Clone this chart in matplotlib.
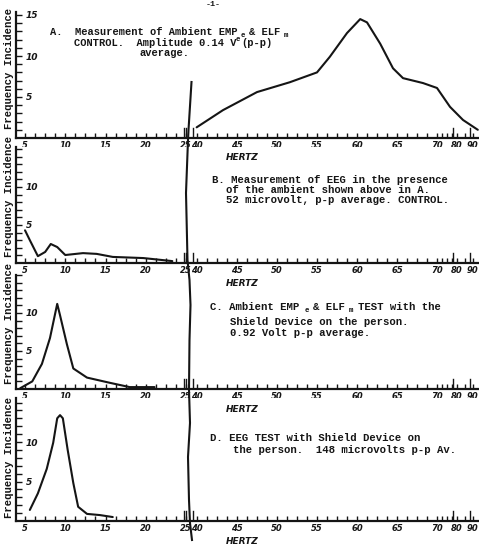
import matplotlib
matplotlib.use('Agg')
import matplotlib.pyplot as plt
from matplotlib.lines import Line2D
import numpy as np

# ---- data (Hz, frequency incidence) ----
a_hz = [39.5, 43.25, 47.5, 51.6, 55.0, 56.6, 58.75, 60.4, 61.25, 62.9, 64.5, 65.75, 68.25, 70.0, 76.5, 83.75, 93.0]
a_val = [1.3, 3.4, 5.6, 6.8, 8.0, 9.9, 12.8, 14.5, 14.1, 11.5, 8.5, 7.3, 6.7, 6.1, 3.8, 2.2, 1.0]

b_hz = [5.0, 5.6, 6.6, 7.5, 8.2, 9.0, 10.0, 12.2, 13.9, 15.9, 19.7, 23.3]
b_val = [4.3, 3.0, 0.9, 1.45, 2.5, 2.1, 1.05, 1.3, 1.2, 0.8, 0.65, 0.25]

c_hz = [4.4, 5.9, 7.1, 8.1, 9.0, 9.35, 10.2, 11.0, 12.7, 15.6, 18.0, 21.1]
c_val = [0.1, 1.0, 3.3, 6.7, 11.2, 9.7, 5.9, 2.7, 1.5, 0.8, 0.25, 0.25]

d_hz = [5.6, 6.6, 7.7, 8.5, 9.0, 9.35, 9.7, 10.3, 11.0, 11.6, 12.7, 14.3, 15.9]
d_val = [1.4, 3.5, 6.6, 9.9, 13.0, 13.4, 13.0, 9.0, 4.8, 1.8, 0.9, 0.75, 0.5]

hz_ticks = [5, 10, 15, 20, 25, 40, 45, 50, 55, 60, 65, 70, 80, 90]
hz_tick_labels = ['5', '10', '15', '20', '25', '40', '45', '50', '55', '60', '65', '70', '80', '90']

# typed captions: (x px, y px, font size, text); "_x" = lowered letter, "^x" = raised letter
captions = [
    (50, 32, 7.45, 'A.  Measurement of Ambient EMP_e & ELF_m'),
    (74, 43, 7.45, 'CONTROL.  Amplitude 0.14 V^e(p-p)'),
    (139, 53, 7.45, 'average.'),
    (212, 180, 7.7, 'B. Measurement of EEG in the presence'),
    (226, 190, 7.7, 'of the ambient shown above in A.'),
    (226, 200, 7.7, '52 microvolt, p-p average. CONTROL.'),
    (210, 307, 7.7, 'C. Ambient EMP_e & ELF_m TEST with the'),
    (230, 322, 7.7, 'Shield Device on the person.'),
    (230, 333, 7.7, '0.92 Volt p-p average.'),
    (210, 438, 7.7, 'D. EEG TEST with Shield Device on'),
    (233, 450, 7.7, 'the person.  148 microvolts p-p Av.'),
]

# ---- hand-drawn, broken frequency axis (Hz -> pixel) ----
HZ_BP = np.array([0, 25, 40, 70, 80, 90, 100])
PX_BP = np.array([-15.25, 186, 197, 437, 457, 473, 489])


def fwd(h):
    return np.interp(h, HZ_BP, PX_BP)


def inv(p):
    return np.interp(p, PX_BP, HZ_BP)


W, H = 479, 547
fig = plt.figure(figsize=(W / 100, H / 100), dpi=100)
fig.patch.set_facecolor('white')

ink = '#151515'
mono = 'Liberation Mono'

# (top px, baseline px, px per unit, series, y labels, ylabel centre px)
panels = [
    (12, 138, 8.2, a_hz, a_val, [5, 10, 15], 68),
    (147, 263, 7.6, b_hz, b_val, [5, 10], 196),
    (275, 389, 7.8, c_hz, c_val, [5, 10], 323),
    (398, 521, 7.9, d_hz, d_val, [5, 10], 457),
]

minor_x = list(np.arange(5, 25.01, 1.25)) + list(np.arange(40, 70.01, 1.25)) + [72.5, 75, 77.5, 85, 90]
tall_x = [24.7, 25.1, 35, 78, 88]

for top, base, ppu, xs, ys, ylab, yc in panels:
    ax = fig.add_axes([16 / W, 1 - base / H, 463 / W, (base - top) / H])
    ax.set_xscale('function', functions=(fwd, inv))
    ax.set_xlim(3.88, 93.75)
    ax.set_ylim(0, (base - top) / ppu)
    ax.plot(xs, ys, color=ink, lw=1.5, solid_capstyle='round', solid_joinstyle='round')

    for s in ['top', 'right']:
        ax.spines[s].set_visible(False)
    for s in ['left', 'bottom']:
        ax.spines[s].set_linewidth(1.6)
        ax.spines[s].set_color(ink)

    ax.set_xticks(hz_ticks)
    ax.set_xticklabels(hz_tick_labels, fontsize=6, fontstyle='italic', fontweight='bold', color=ink)
    ax.set_xticks(minor_x, minor=True)
    ax.xaxis.set_minor_formatter(plt.NullFormatter())
    ax.tick_params(axis='x', which='both', direction='in', length=3.5, width=1, color=ink, pad=2)

    ax.set_yticks(ylab)
    ax.set_yticklabels([str(v) for v in ylab], fontsize=6.5, fontstyle='italic', fontweight='bold', color=ink)
    ax.set_yticks(np.arange(1, 16), minor=True)
    ax.tick_params(axis='y', which='both', direction='in', length=4, width=1, color=ink, pad=-7)
    for lab in ax.get_yticklabels():
        lab.set_horizontalalignment('left')

    for t in tall_x:
        ax.axvline(t, ymin=0, ymax=10 / (base - top), color=ink, lw=1)

    fig.text(9 / W, 1 - yc / H, 'Frequency Incidence', rotation=90, ha='center', va='center',
             fontsize=7.7, family=mono, fontweight='bold', color=ink)
    fig.text(242 / W, 1 - (base + 20) / H, 'HERTZ', ha='center', va='center',
             fontsize=6.5, fontstyle='italic', fontweight='bold', color=ink)


def typed(x0, y0, fs, s):
    # draw a typewriter line, putting lowered/raised letters in their own cell
    cw = fs * 0.6 * 100 / 72

    def emit(run, c0):
        lead = len(run) - len(run.lstrip(' '))
        if run.strip():
            fig.text((x0 + (c0 + lead) * cw) / W, 1 - y0 / H, run.strip(' '), ha='left', va='center',
                     fontsize=fs, family=mono, fontweight='bold', color=ink)

    col, run, run_col, i = 0, '', 0, 0
    while i < len(s):
        c = s[i]
        if c in '_^' and i + 1 < len(s):
            emit(run, run_col)
            if c == '_':
                dx, dy = 4.3, 3.5
            else:
                dx, dy = 0, -3.5
            fig.text((x0 + col * cw + dx) / W, 1 - (y0 + dy) / H, s[i + 1], ha='left', va='center',
                     fontsize=5.3, family=mono, fontweight='bold', color=ink)
            col += 1
            i += 2
            run, run_col = '', col
            continue
        run += c
        col += 1
        i += 1
    emit(run, run_col)


for x, y, fs, s in captions:
    typed(x, y, fs, s)

fig.text(213 / W, 1 - 5 / H, '-1-', ha='center', va='center', fontsize=6, family=mono,
         fontweight='bold', color=ink)

# wavy break line through the 25-40 Hz gap
brk_x = [191.5, 188.5, 188, 186, 187.5, 189.5, 190.5, 189.5, 189, 190, 188, 189, 190, 192]
brk_y = [82, 130, 140, 193, 260, 280, 305, 340, 390, 423, 457, 500, 523, 540]
fig.add_artist(Line2D(np.array(brk_x) / W, 1 - np.array(brk_y) / H, transform=fig.transFigure,
                      color=ink, lw=1.5))

fig.savefig('out.png', dpi=100, facecolor='white')
